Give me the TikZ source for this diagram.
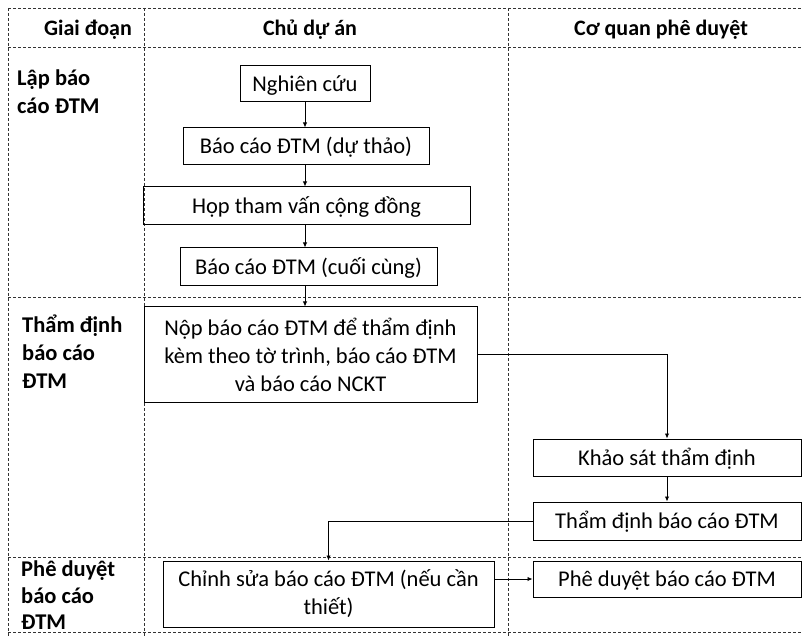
\documentclass[tikz,border=0pt]{standalone}
\usepackage{fontspec}
\setmainfont{Carlito}
\usetikzlibrary{arrows.meta}
\begin{document}
\begin{tikzpicture}[x=1pt,y=-1pt,
  grid/.style={draw=black!80, line width=0.9pt, dash pattern=on 3pt off 2pt},
  box/.style={draw=black, line width=1pt, rectangle, inner sep=0pt, align=center,
    font=\fontsize{22.5}{28}\selectfont},
  one/.style={text height=18pt, text depth=3pt},
  hdr/.style={font=\bfseries\fontsize{22}{26}\selectfont, inner sep=0pt},
  stage/.style={font=\bfseries\fontsize{22.5}{28}\selectfont, inner sep=0pt, align=left, anchor=north west},
  arr/.style={draw=black, line width=0.9pt, -{Latex[length=5pt,width=4.5pt]}}]
\useasboundingbox (0,0) rectangle (803,636);
% grid
\draw[grid] (8,8) -- (803,8);
\draw[grid] (8,47) -- (803,47);
\draw[grid] (8,297) -- (803,297);
\draw[grid] (8,557) -- (803,557);
\draw[grid] (8,632) -- (803,632);
\draw[grid] (8,8) -- (8,636);
\draw[grid] (144,8) -- (144,636);
\draw[grid] (508,8) -- (508,636);
% headers
\node[hdr] (h1) at (88,30) {Giai đoạn};
\node[hdr] (h2) at (310,30) {Chủ dự án};
\node[hdr] (h3) at (661,30) {Cơ quan phê duyệt};
% stages
\node[stage] (s1) at (17,70) {Lập báo\\cáo ĐTM};
\node[stage] (s2) at (22,315) {Thẩm định\\báo cáo\\ĐTM};
\node[stage, font=\bfseries\fontsize{22.5}{26.5}\selectfont] (s3) at (21,561) {Phê duyệt\\báo cáo\\ĐTM};
% boxes
\node[box, one, minimum width=130, minimum height=36] (n1) at (305,84) {Nghiên cứu};
\node[box, one, minimum width=246, minimum height=37] (n2) at (306,146.5) {Báo cáo ĐTM (dự thảo)};
\node[box, one, minimum width=327, minimum height=38] (n3) at (306.5,206) {Họp tham vấn cộng đồng};
\node[box, one, minimum width=257, minimum height=38] (n4) at (308.5,267) {Báo cáo ĐTM (cuối cùng)};
\node[box, minimum width=333, minimum height=95] (n5) at (310.5,354.5) {Nộp báo cáo ĐTM để thẩm định\\kèm theo tờ trình, báo cáo ĐTM\\và báo cáo NCKT};
\node[box, one, minimum width=268, minimum height=37] (n6) at (667,457.5) {Khảo sát thẩm định};
\node[box, one, minimum width=268, minimum height=38] (n7) at (667,521) {Thẩm định báo cáo ĐTM};
\node[box, minimum width=331, minimum height=66] (n8) at (328.5,594) {Chỉnh sửa báo cáo ĐTM (nếu cần\\thiết)};
\node[box, one, minimum width=268, minimum height=36] (n9) at (667,579) {Phê duyệt báo cáo ĐTM};
% connectors
\draw[arr] (n1.south) -- (n1.south |- n2.north);
\draw[arr] (n1.south |- n2.south) -- (n1.south |- n3.north);
\draw[arr] (n1.south |- n3.south) -- (n1.south |- n4.north);
\draw[arr] (n1.south |- n4.south) -- (n1.south |- n5.north);
\draw[arr] (n5.east) -- (n6.north |- n5.east) -- (n6.north);
\draw[arr] (n6.south) -- (n7.north);
\draw[arr] (n7.west) -| (n8.north);
\draw[arr] (n8.east |- n9.west) -- (n9.west);
\end{tikzpicture}
\end{document}
